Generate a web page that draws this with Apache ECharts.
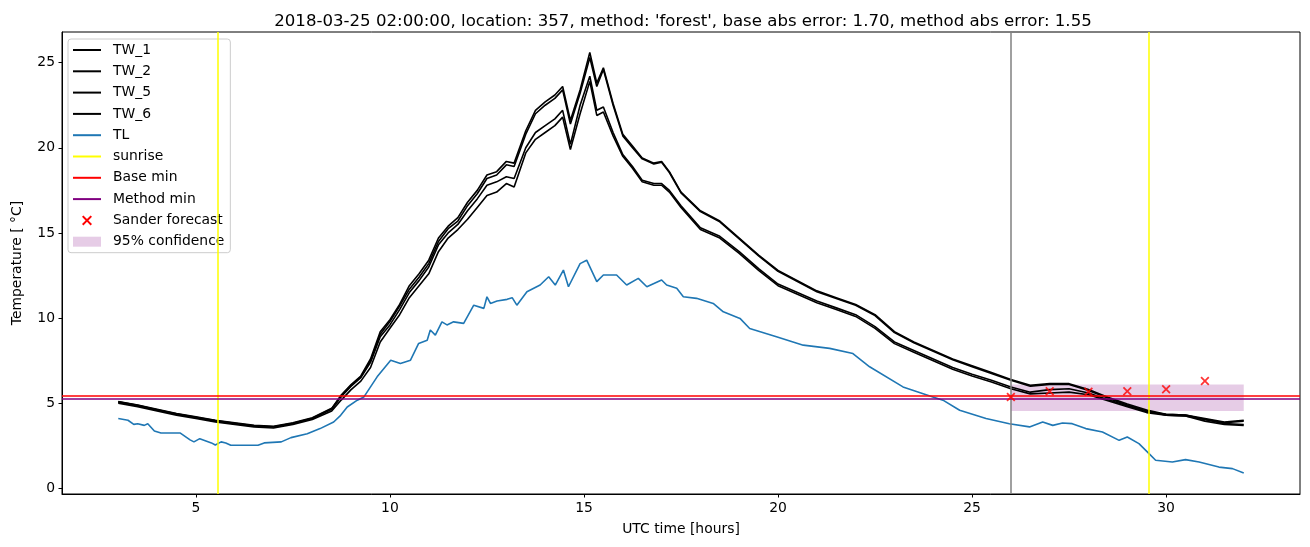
<!DOCTYPE html>
<html>
<head>
<meta charset="utf-8">
<script src="https://cdn.jsdelivr.net/npm/echarts@6/dist/echarts.min.js"></script>
<style>
html,body{margin:0;padding:0;background:#fff;}
#chart{width:1310px;height:547px;}
</style>
</head>
<body>
<div id="chart"></div>
<script>
// ---- data ----
const HOURS = [3,3.5,4,4.5,5,5.5,6,6.5,7,7.5,8,8.5,8.75,9,9.25,9.5,9.75,10,10.25,10.5,10.75,11,11.25,11.5,11.75,12,12.25,12.5,12.75,13,13.2,13.5,13.75,14,14.25,14.45,14.65,14.9,15.15,15.33,15.5,15.75,16,16.25,16.5,16.8,17,17.2,17.5,18,18.5,19,19.5,20,20.5,21,21.5,22,22.5,23,23.5,24,24.5,25,25.5,26,26.5,27,27.5,28,28.5,29,29.5,30,30.5,31,31.5,32];
const TW_1 = [5.1,4.9,4.65,4.4,4.2,4.0,3.85,3.7,3.65,3.85,4.15,4.7,5.5,6.1,6.6,7.6,9.2,9.9,10.8,11.9,12.6,13.4,14.7,15.4,15.9,16.8,17.5,18.4,18.6,19.2,19.1,21.0,22.2,22.7,23.1,23.6,21.6,23.4,25.6,23.8,24.7,22.6,20.8,20.1,19.4,19.1,19.2,18.6,17.4,16.3,15.7,14.7,13.7,12.8,12.2,11.6,11.2,10.8,10.2,9.2,8.6,8.1,7.6,7.2,6.8,6.4,6.05,6.15,6.15,5.8,5.35,4.95,4.6,4.35,4.3,4.1,3.9,4.0];
const TW_2 = [5.08,4.88,4.62,4.38,4.18,3.98,3.82,3.68,3.62,3.82,4.12,4.68,5.45,6.05,6.55,7.5,9.05,9.8,10.7,11.7,12.4,13.2,14.5,15.25,15.7,16.6,17.3,18.2,18.4,19.0,18.9,20.8,22.0,22.5,22.9,23.4,21.4,23.2,25.3,23.6,24.6,22.5,20.7,20.0,19.35,19.05,19.15,18.55,17.35,16.25,15.65,14.65,13.65,12.75,12.15,11.55,11.15,10.75,10.15,9.15,8.55,8.05,7.55,7.15,6.75,6.35,6.0,6.1,6.1,5.75,5.3,4.9,4.55,4.3,4.25,4.05,3.85,3.95];
const TW_5 = [5.05,4.85,4.6,4.35,4.15,3.95,3.8,3.65,3.6,3.8,4.1,4.65,5.4,6.0,6.5,7.4,8.9,9.6,10.5,11.5,12.2,13.0,14.3,15.0,15.5,16.3,17.0,17.8,18.0,18.3,18.2,20.0,20.9,21.3,21.7,22.2,20.2,22.5,24.2,22.2,22.4,20.9,19.6,18.9,18.1,17.9,17.9,17.5,16.6,15.3,14.8,13.9,12.9,12.0,11.5,11.0,10.6,10.2,9.5,8.6,8.1,7.6,7.1,6.7,6.35,5.95,5.65,5.8,5.85,5.6,5.2,4.85,4.5,4.35,4.3,4.05,3.8,3.75];
const TW_6 = [5.0,4.8,4.55,4.3,4.1,3.9,3.75,3.6,3.55,3.75,4.05,4.55,5.2,5.8,6.3,7.1,8.6,9.4,10.2,11.2,11.9,12.6,13.9,14.7,15.2,15.8,16.5,17.2,17.4,17.9,17.7,19.7,20.5,20.9,21.3,21.8,19.9,22.0,23.9,21.9,22.1,20.7,19.5,18.8,18.0,17.8,17.8,17.4,16.5,15.2,14.7,13.8,12.8,11.9,11.4,10.9,10.5,10.1,9.4,8.5,8.0,7.5,7.0,6.6,6.25,5.85,5.55,5.6,5.65,5.5,5.15,4.8,4.45,4.3,4.25,3.95,3.75,3.7];

const TL_HOURS = [3,3.25,3.4,3.5,3.67,3.76,3.93,4.1,4.6,4.85,4.95,5.1,5.4,5.5,5.65,5.77,5.9,6.6,6.76,7.2,7.45,7.87,8.2,8.55,8.73,8.9,9.16,9.33,9.67,10.02,10.27,10.53,10.74,10.96,11.04,11.17,11.34,11.47,11.64,11.9,12.16,12.42,12.5,12.59,12.76,13.02,13.15,13.27,13.53,13.87,14.09,14.26,14.47,14.6,14.9,15.07,15.33,15.5,15.84,16.1,16.4,16.62,17.0,17.13,17.39,17.56,17.9,18.33,18.59,19.02,19.27,19.96,20.65,21.33,21.93,22.36,23.22,23.99,24.25,24.68,25.36,25.96,26.48,26.82,27.08,27.33,27.58,27.93,28.36,28.79,29.0,29.3,29.56,29.73,30.16,30.5,30.85,31.36,31.71,32];
const TL = [4.1,4.0,3.76,3.8,3.7,3.8,3.37,3.25,3.25,2.85,2.73,2.92,2.67,2.55,2.73,2.67,2.53,2.53,2.67,2.73,2.98,3.21,3.51,3.9,4.29,4.78,5.18,5.37,6.55,7.53,7.33,7.53,8.51,8.7,9.3,9.0,9.78,9.6,9.78,9.69,10.76,10.57,11.25,10.86,11.0,11.1,11.2,10.76,11.55,11.94,12.43,11.94,12.82,11.84,13.2,13.4,12.14,12.53,12.53,11.94,12.33,11.84,12.24,11.94,11.75,11.25,11.16,10.86,10.37,9.98,9.39,8.9,8.41,8.22,7.92,7.14,5.96,5.37,5.18,4.59,4.1,3.8,3.61,3.9,3.7,3.84,3.8,3.51,3.31,2.82,3.02,2.63,2.04,1.65,1.55,1.69,1.55,1.25,1.16,0.9];

const SUNRISE = [5.57, 29.56];
const FORECAST_TIME = 26;
const BASE_MIN = 5.45;
const METHOD_MIN = 5.25;
const FORECAST_HOURS = [26,27,28,29,30,31];
const FORECAST = [5.37,5.71,5.67,5.71,5.82,6.31];
const CONF_HOURS = [26, 32];
const CONF_RANGE = [4.55, 6.1];
const X_TICKS = [5,10,15,20,25,30];
const Y_TICKS = [0,5,10,15,20,25];
const TITLE = "2018-03-25 02:00:00, location: 357, method: 'forest', base abs error: 1.70, method abs error: 1.55";

// ---- chart ----
const FONT = 'DejaVu Sans';
const chart = echarts.init(document.getElementById('chart'), null, {renderer: 'canvas'});
const pair = (xs, ys) => xs.map((x, i) => [x, ys[i]]);
const lineSeries = (name, ys, color) => ({
  name, type: 'line', data: pair(HOURS, ys), showSymbol: false, symbol: 'none',
  lineStyle: {color, width: 1.6}, itemStyle: {color}, z: 3, silent: true
});
const xSym = 'path://M0,1.4 L1.4,0 L5,3.6 L8.6,0 L10,1.4 L6.4,5 L10,8.6 L8.6,10 L5,6.4 L1.4,10 L0,8.6 L3.6,5 Z';

const option = {
  animation: false,
  backgroundColor: '#fff',
  textStyle: {fontFamily: FONT},
  title: {
    text: TITLE, left: 678, top: 8, textAlign: 'center',
    textStyle: {fontFamily: FONT, fontSize: 16.6, fontWeight: 'normal', color: '#000'}
  },
  grid: {left: 62, right: 10, top: 32, bottom: 53, show: true, borderColor: '#000', borderWidth: 1, backgroundColor: 'transparent'},
  legend: {
    orient: 'vertical', left: 68, top: 39, padding: [4, 6, 4, 4],
    itemWidth: 28, itemHeight: 10, itemGap: 7.3,
    itemStyle: {opacity: 0},
    backgroundColor: 'rgba(255,255,255,0.8)', borderColor: '#cccccc', borderWidth: 1, borderRadius: 3,
    textStyle: {fontFamily: FONT, fontSize: 13.9, color: '#000', lineHeight: 14, padding: [0, 0, 0, 7]},
    data: ['TW_1','TW_2','TW_5','TW_6','TL','sunrise','Base min','Method min',
      {name: 'Sander forecast', icon: xSym, itemStyle: {opacity: 1, color: '#ff0000'}},
      {name: '95% confidence', icon: 'rect', itemStyle: {opacity: 1, color: 'rgba(128,0,128,0.2)'}}]
  },
  xAxis: {
    type: 'value', min: 1.55, max: 33.45,
    name: 'UTC time [hours]', nameLocation: 'middle', nameGap: 28,
    nameTextStyle: {fontFamily: FONT, fontSize: 13.9, color: '#000'},
    axisLine: {show: true, onZero: false, lineStyle: {color: '#000', width: 1}},
    axisTick: {show: true, length: 3.5, customValues: X_TICKS, lineStyle: {color: '#000'}},
    axisLabel: {show: true, customValues: X_TICKS, margin: 7, fontFamily: FONT, fontSize: 13.9, color: '#000'},
    splitLine: {show: false}
  },
  yAxis: {
    type: 'value', min: -0.33, max: 26.8,
    name: 'Temperature [ \u00b0C]', nameLocation: 'middle', nameGap: 38, nameRotate: 90,
    nameTextStyle: {fontFamily: FONT, fontSize: 13.9, color: '#000'},
    axisLine: {show: true, onZero: false, lineStyle: {color: '#000', width: 1}},
    axisTick: {show: true, length: 3.5, customValues: Y_TICKS, lineStyle: {color: '#000'}},
    axisLabel: {show: true, customValues: Y_TICKS, margin: 7, fontFamily: FONT, fontSize: 13.9, color: '#000'},
    splitLine: {show: false}
  },
  series: [
    lineSeries('TW_1', TW_1, '#000000'),
    lineSeries('TW_2', TW_2, '#000000'),
    lineSeries('TW_5', TW_5, '#000000'),
    lineSeries('TW_6', TW_6, '#000000'),
    {name: 'TL', type: 'line', data: pair(TL_HOURS, TL), showSymbol: false, symbol: 'none',
      lineStyle: {color: '#1f77b4', width: 1.6}, itemStyle: {color: '#1f77b4'}, z: 3, silent: true},
    {name: 'sunrise', type: 'line', data: [], symbol: 'none', lineStyle: {color: '#ffff00', width: 1.5}, itemStyle: {color: '#ffff00'}, z: 4,
      markLine: {silent: true, symbol: 'none', animation: false, label: {show: false},
        lineStyle: {color: '#ffff00', width: 1.5, type: 'solid'},
        data: SUNRISE.map(v => ({xAxis: v}))}},
    {name: 'forecast time', type: 'line', data: [], symbol: 'none', lineStyle: {color: '#808080', width: 1.5}, z: 4,
      markLine: {silent: true, symbol: 'none', animation: false, label: {show: false},
        lineStyle: {color: '#808080', width: 1.5, type: 'solid'},
        data: [{xAxis: FORECAST_TIME}]}},
    {name: 'Base min', type: 'line', data: [], symbol: 'none', lineStyle: {color: '#ff0000', width: 1.5}, itemStyle: {color: '#ff0000'}, z: 4,
      markLine: {silent: true, symbol: 'none', animation: false, label: {show: false},
        lineStyle: {color: '#ff0000', width: 1.5, type: 'solid'},
        data: [{yAxis: BASE_MIN}]}},
    {name: 'Method min', type: 'line', data: [], symbol: 'none', lineStyle: {color: '#800080', width: 1.5}, itemStyle: {color: '#800080'}, z: 4,
      markLine: {silent: true, symbol: 'none', animation: false, label: {show: false},
        lineStyle: {color: '#800080', width: 1.5, type: 'solid'},
        data: [{yAxis: METHOD_MIN}]}},
    {name: 'Sander forecast', type: 'scatter', data: pair(FORECAST_HOURS, FORECAST),
      symbol: xSym, symbolSize: 9, symbolKeepAspect: true, itemStyle: {color: '#ff0000'}, z: 6, silent: true},
    {name: '95% confidence', type: 'line', data: [], symbol: 'none', itemStyle: {color: 'rgba(128,0,128,0.2)'}, lineStyle: {color: 'rgba(128,0,128,0.2)'}, z: 5,
      markArea: {silent: true, animation: false, itemStyle: {color: 'rgba(128,0,128,0.2)'}, label: {show: false},
        data: [[{coord: [CONF_HOURS[0], CONF_RANGE[0]]}, {coord: [CONF_HOURS[1], CONF_RANGE[1]]}]]}}
  ]
};
chart.setOption(option);
</script>
</body>
</html>
